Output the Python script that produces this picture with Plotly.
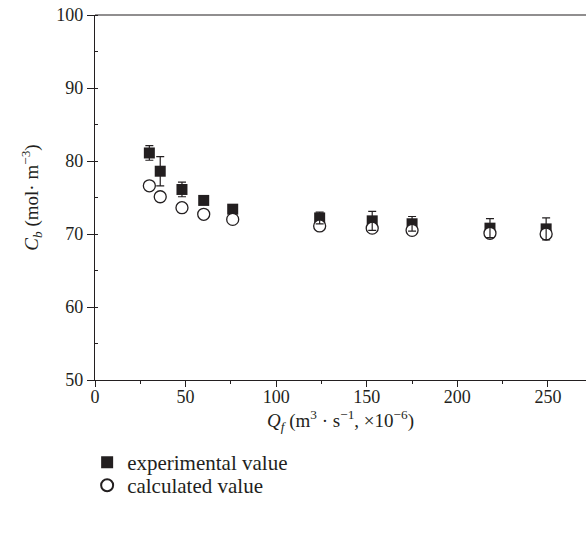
import plotly.graph_objects as go

flow = [30, 36, 48, 60, 76, 124, 153, 175, 218, 249]
experimental = [81.1, 78.6, 76.1, 74.6, 73.4, 72.2, 71.8, 71.4, 70.8, 70.7]
exp_error = [1.0, 2.0, 1.0, 0.5, 0.5, 0.8, 1.3, 1.0, 1.3, 1.5]
calculated = [76.6, 75.1, 73.6, 72.7, 72.0, 71.1, 70.8, 70.5, 70.1, 70.0]
x_ticks = [0, 50, 100, 150, 200, 250]
x_minor = [25, 75, 125, 175, 225]

FONT = "Liberation Serif"
INK = "#231f20"
XRANGE = [0, 271]

fig = go.Figure()
fig.add_trace(go.Scatter(
    x=flow, y=experimental, mode="markers", name="experimental value", legend="legend",
    marker=dict(symbol="square", size=11, color=INK, line=dict(width=0)),
))
fig.add_trace(go.Scatter(
    x=flow, y=calculated, mode="markers", name="calculated value", legend="legend2",
    marker=dict(symbol="circle", size=12, color="white", line=dict(width=1.3, color=INK)),
))
fig.add_trace(go.Scatter(
    x=flow, y=experimental, mode="markers", showlegend=False, hoverinfo="skip",
    xaxis="x2",
    marker=dict(size=1, color="rgba(0,0,0,0)"),
    error_y=dict(type="data", array=exp_error, visible=True, color=INK, thickness=1.2, width=4),
))

legend_style = dict(x=-0.016, xanchor="left", yanchor="top",
                    font=dict(family=FONT, size=21, color=INK),
                    itemsizing="constant", bgcolor="rgba(0,0,0,0)")

fig.update_layout(
    width=586, height=533,
    margin=dict(l=95, r=0, t=15, b=153),
    paper_bgcolor="white", plot_bgcolor="white",
    font=dict(family=FONT, size=18, color=INK),
    showlegend=True,
    legend=dict(y=-0.170, **legend_style),
    legend2=dict(y=-0.233, **legend_style),
    xaxis=dict(
        range=XRANGE, tickvals=x_ticks,
        showline=True, linecolor=INK, linewidth=1.2,
        ticks="", showgrid=False, zeroline=False,
        title=dict(text="<i>Q<sub>f</sub></i> (m<sup>3</sup> · s<sup>−1</sup>, ×10<sup>−6</sup>)",
                   font=dict(family=FONT, size=19), standoff=0),
        tickfont=dict(family=FONT, size=18),
    ),
    xaxis2=dict(
        range=XRANGE, tickvals=x_ticks, overlaying="x", side="bottom",
        showticklabels=False, showline=False,
        ticks="outside", ticklen=6, tickcolor=INK, tickwidth=1,
        minor=dict(tickvals=x_minor, ticks="outside", ticklen=3, tickcolor=INK),
        showgrid=False, zeroline=False,
    ),
    yaxis=dict(
        range=[50, 100], dtick=10, tick0=50,
        showline=True, linecolor=INK, linewidth=1.2,
        ticks="outside", ticklen=7, tickcolor=INK, tickwidth=1,
        minor=dict(dtick=5, tick0=50, ticks="inside", ticklen=3, tickcolor=INK),
        showgrid=False, zeroline=False,
        title=dict(text="<i>C<sub>b</sub></i> (mol· m<sup>−3</sup>)", font=dict(family=FONT, size=19), standoff=12),
        tickfont=dict(family=FONT, size=18),
    ),
)
# top border line
fig.add_shape(type="line", xref="paper", yref="paper", x0=0, x1=1, y0=1, y1=1,
              line=dict(color=INK, width=1.2))

fig.write_html("out.html")
